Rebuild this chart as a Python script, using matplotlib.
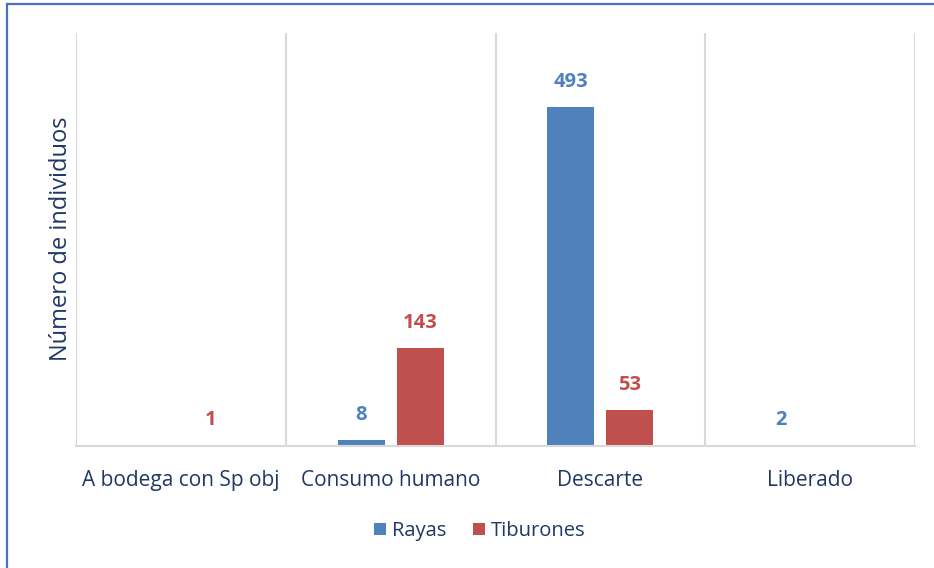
import numpy as np
import matplotlib.pyplot as plt
from matplotlib.patches import Rectangle

categories = ['A bodega con Sp obj', 'Consumo humano', 'Descarte', 'Liberado']
rayas = [0, 8, 493, 2]
tiburones = [1, 143, 53, 0]
series_names = ['Rayas', 'Tiburones']

blue = '#4F81BD'
red = '#C0504D'
navy = '#1F3864'

plt.rcParams['font.family'] = ['Open Sans', 'DejaVu Sans']

fig = plt.figure(figsize=(9.34, 5.68), dpi=100)
ax = fig.add_axes([76 / 934, 1 - 446 / 568, (915 - 76) / 934, (446 - 33) / 568])

x = np.arange(len(categories))
w = 0.224
off = 0.141
b1 = ax.bar(x - off, rayas, w, color=blue, label=series_names[0])
b2 = ax.bar(x + off, tiburones, w, color=red, label=series_names[1])

# data labels (Excel hides the zero ones)
for bars, vals, col in [(b1, rayas, blue), (b2, tiburones, red)]:
    for rect, v in zip(bars, vals):
        if v == 0:
            continue
        ax.annotate(str(v), (rect.get_x() + rect.get_width() / 2, v),
                    xytext=(0, 18), textcoords='offset points',
                    ha='center', va='center', fontsize=14.5, fontweight='bold', color=col)

ax.set_xlim(-0.5, len(categories) - 0.5)
ax.set_ylim(0, 600)
ax.set_yticks([])
ax.set_xticks(x)
ax.set_xticklabels(categories, fontsize=15, color=navy)
ax.tick_params(axis='x', length=0, pad=17)

# vertical separators between categories
for s in np.arange(-0.5, len(categories), 1.0):
    ax.axvline(s, color='#D9D9D9', lw=1.5, zorder=0)

for sp in ['top', 'right', 'left']:
    ax.spines[sp].set_visible(False)
ax.spines['bottom'].set_color('#D9D9D9')
ax.spines['bottom'].set_linewidth(1.5)

fig.text(61 / 934, 1 - 239 / 568, 'Número de individuos', rotation=90,
         ha='center', va='center', fontsize=17, color=navy)

ax.legend(loc='center', bbox_to_anchor=(404 / 839, -85 / 413), ncol=2, frameon=False,
          fontsize=14.5, labelcolor=navy, handlelength=0.6, handleheight=0.6,
          handletextpad=0.3, columnspacing=1.3)

# outer chart border
fig.patches.append(Rectangle((7 / 934, -0.05), 1.2, 1 - 4 / 568 + 0.05,
                             transform=fig.transFigure, fill=False,
                             edgecolor='#4F6FBF', lw=1.6))

fig.savefig('out.png', dpi=100)
